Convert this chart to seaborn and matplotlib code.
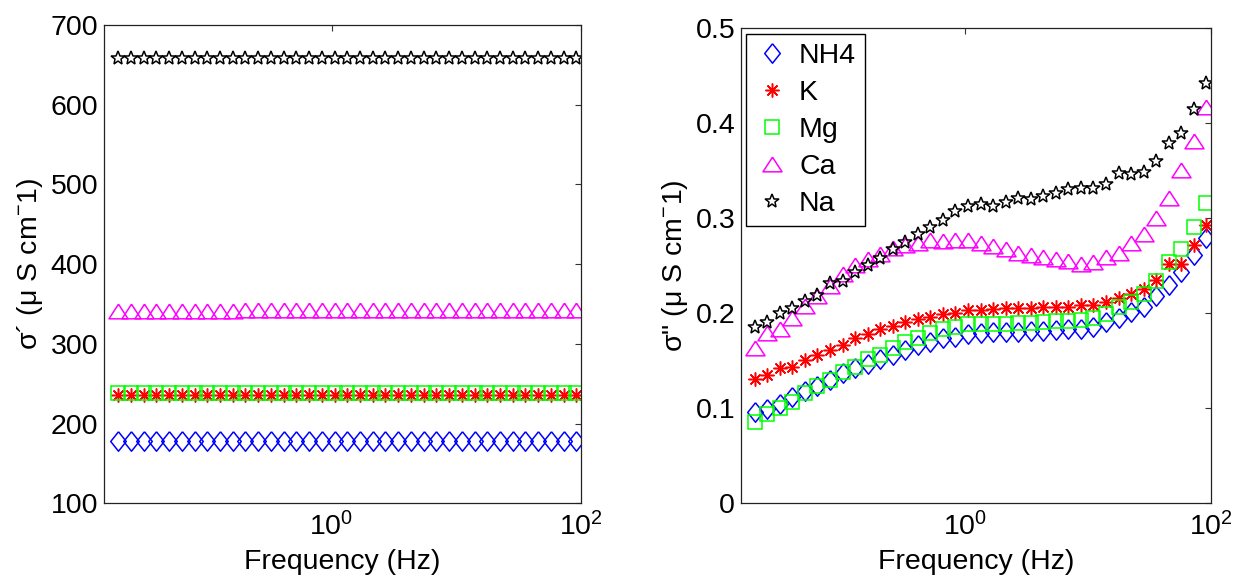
import numpy as np
import pandas as pd
import seaborn as sns
import matplotlib.pyplot as plt
from matplotlib.ticker import NullLocator, FuncFormatter

# frequency points (Hz)
freq = [0.0195, 0.0247, 0.0312, 0.0394, 0.0499, 0.0631, 0.0798, 0.1009, 0.1276,
        0.1614, 0.2042, 0.2582, 0.3266, 0.4130, 0.5224, 0.6607, 0.8356, 1.057,
        1.337, 1.690, 2.138, 2.704, 3.420, 4.325, 5.470, 6.918, 8.750, 11.07,
        14.00, 17.70, 22.39, 28.31, 35.81, 45.29, 57.28, 72.44, 91.62]

ions = ["NH4", "K", "Mg", "Ca", "Na"]

# sigma' (uS/cm) - practically flat over frequency
re_nh4 = [178] * 37
re_k = [236] * 37
re_mg = [238] * 37
re_ca = [341] * 10 + [342] * 27
re_na = [658] * 37

# sigma'' (uS/cm)
im_nh4 = [0.096, 0.099, 0.105, 0.112, 0.118, 0.123, 0.130, 0.137, 0.142, 0.147,
          0.152, 0.156, 0.161, 0.167, 0.170, 0.174, 0.175, 0.178, 0.179, 0.180,
          0.180, 0.180, 0.181, 0.181, 0.182, 0.183, 0.184, 0.186, 0.191, 0.195,
          0.201, 0.207, 0.218, 0.230, 0.244, 0.261, 0.279]
im_k = [0.131, 0.135, 0.142, 0.144, 0.151, 0.156, 0.161, 0.167, 0.174, 0.178,
        0.184, 0.187, 0.191, 0.194, 0.196, 0.199, 0.200, 0.204, 0.204, 0.205,
        0.206, 0.206, 0.206, 0.207, 0.207, 0.207, 0.209, 0.209, 0.212, 0.216,
        0.220, 0.226, 0.235, 0.252, 0.252, 0.272, 0.293]
im_mg = [0.086, 0.094, 0.100, 0.107, 0.116, 0.123, 0.130, 0.138, 0.144, 0.152,
         0.156, 0.164, 0.170, 0.174, 0.179, 0.183, 0.186, 0.189, 0.189, 0.189,
         0.189, 0.190, 0.190, 0.191, 0.192, 0.192, 0.193, 0.195, 0.199, 0.207,
         0.212, 0.220, 0.234, 0.254, 0.268, 0.291, 0.316]
im_ca = [0.163, 0.179, 0.183, 0.195, 0.208, 0.218, 0.229, 0.241, 0.251, 0.257,
         0.262, 0.269, 0.272, 0.274, 0.277, 0.276, 0.277, 0.277, 0.274, 0.271,
         0.268, 0.263, 0.261, 0.259, 0.257, 0.255, 0.252, 0.254, 0.259, 0.264,
         0.274, 0.284, 0.300, 0.321, 0.351, 0.381, 0.417]
im_na = [0.186, 0.191, 0.200, 0.206, 0.213, 0.219, 0.232, 0.234, 0.243, 0.251,
         0.258, 0.268, 0.275, 0.283, 0.291, 0.298, 0.308, 0.313, 0.315, 0.313,
         0.317, 0.321, 0.320, 0.324, 0.327, 0.331, 0.332, 0.332, 0.336, 0.348,
         0.347, 0.349, 0.360, 0.379, 0.390, 0.415, 0.442]

# matlab-ish marker shapes (diamond is tall, triangle is wide)
diamond = [(0, 1), (0.8, 0), (0, -1), (-0.8, 0), (0, 1)]
triangle = [(0, 0.77), (1, -0.77), (-1, -0.77), (0, 0.77)]
styles = {
    "NH4": dict(color="#0000ff", marker=diamond, ms=14.0),
    "K": dict(color="#ff0000", marker=(8, 2, 0), ms=10.0),
    "Mg": dict(color="#00ff00", marker="s", ms=9.6),
    "Ca": dict(color="#ff00ff", marker=triangle, ms=13.7),
    "Na": dict(color="#000000", marker="*", ms=10.5),
}

sns.set_style("white")
plt.rcParams["font.family"] = ["Liberation Sans", "DejaVu Sans"]
plt.rcParams["mathtext.fontset"] = "custom"
plt.rcParams["mathtext.rm"] = "Liberation Sans"
plt.rcParams["mathtext.it"] = "Liberation Sans:italic"
plt.rcParams["mathtext.default"] = "regular"
plt.rcParams["text.color"] = "black"
plt.rcParams["axes.labelcolor"] = "black"
plt.rcParams["xtick.color"] = "black"
plt.rcParams["ytick.color"] = "black"
FS = 20.5


def build_frame(series):
    rows = []
    for ion, vals in zip(ions, series):
        rows.append(pd.DataFrame({"freq": freq, "val": vals, "ion": ion}))
    return pd.concat(rows, ignore_index=True)


def draw(ax, df):
    for ion in ions:
        st = styles[ion]
        sub = df[df["ion"] == ion]
        sns.lineplot(data=sub, x="freq", y="val", ax=ax, linestyle="",
                     marker=st["marker"], ms=st["ms"], mfc="none",
                     mec=st["color"], mew=1.1, color=st["color"], label=ion,
                     legend=False)


def style_axis(ax, ylim, yticks, ylabel):
    ax.set_xscale("log")
    ax.set_xticks([1e-2, 1, 1e2])
    ax.xaxis.set_minor_locator(NullLocator())
    ax.set_xlim(0.015, 100)
    ax.set_yticks(yticks)
    ax.set_ylim(*ylim)
    ax.yaxis.set_major_formatter(FuncFormatter(lambda v, p: "%g" % round(v, 3)))
    ax.tick_params(direction="in", top=True, right=True, length=4, width=0.8,
                   labelsize=FS, color="#333333")
    ax.tick_params(axis="x", pad=6)
    ax.tick_params(axis="y", pad=4)
    for sp in ax.spines.values():
        sp.set_color("#222222")
        sp.set_linewidth(0.9)
    ax.set_xlabel("Frequency (Hz)", fontsize=FS, labelpad=6)
    ax.set_ylabel(ylabel, fontsize=FS, labelpad=4)


fig = plt.figure(figsize=(12.37, 5.83), dpi=100)
ax1 = fig.add_axes([0.0841, 0.1367, 0.3856, 0.8204])
ax2 = fig.add_axes([0.5988, 0.1367, 0.3802, 0.8147])

draw(ax1, build_frame([re_nh4, re_k, re_mg, re_ca, re_na]))
style_axis(ax1, (100, 700), range(100, 701, 100), "σ´ (μ S cm$^{-}$1)")

draw(ax2, build_frame([im_nh4, im_k, im_mg, im_ca, im_na]))
style_axis(ax2, (0, 0.5), [0, 0.1, 0.2, 0.3, 0.4, 0.5], 'σ" (μ S cm$^{-}$1)')

leg = ax2.legend(loc="upper left", fontsize=FS, frameon=True, fancybox=False,
                 framealpha=1, edgecolor="black", borderaxespad=0.2,
                 labelspacing=0.39, handlelength=1.2, handletextpad=0.35,
                 borderpad=0.3)
leg.get_frame().set_linewidth(1.0)

fig.savefig("out.png", dpi=100)
